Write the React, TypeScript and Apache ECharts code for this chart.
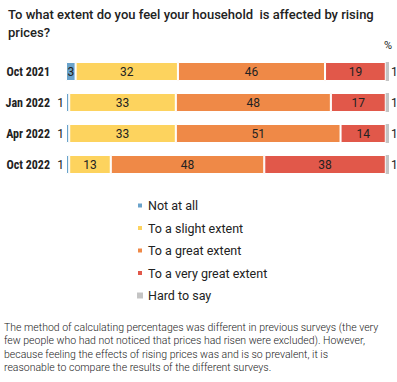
import React, { useEffect, useRef } from "react";
import * as echarts from "echarts";

const categories = ["Oct 2021", "Jan 2022", "Apr 2022", "Oct 2022"];
const notAtAll = [3, 1, 1, 1];
const slight = [32, 33, 33, 13];
const great = [46, 48, 51, 48];
const veryGreat = [19, 17, 14, 38];
const hardToSay = [1, 1, 1, 1];

const seriesNames = ["Not at all", "To a slight extent", "To a great extent", "To a very great extent", "Hard to say"];
const colors = ["#6aa3cb", "#fdd35e", "#ef8947", "#e1584a", "#c4c4c4"];

const footnote = [
  "The method of calculating percentages was different in previous surveys (the very",
  "few people who had not noticed that prices had risen were excluded). However,",
  "because feeling the effects of rising prices was and is so prevalent, it is",
  "reasonable to compare the results of the different surveys.",
];

export default function App() {
  const ref = useRef<HTMLDivElement>(null);
  useEffect(() => {
    document.body.style.margin = "0";
    if (!ref.current) return;
    const chart = echarts.init(ref.current, undefined, { renderer: "svg" });
    const all = [notAtAll, slight, great, veryGreat, hardToSay];
    const sums = categories.map((_, i) => all.reduce((s, arr) => s + arr[i], 0));
    const font = "Roboto, 'Noto Sans', sans-serif";
    const series = all.map((arr, si) => ({
      name: seriesNames[si],
      type: "bar",
      stack: "total",
      barWidth: 19,
      itemStyle: { color: colors[si], borderColor: "#ffffff", borderWidth: si === 4 ? 0 : 1 },
      label: {
        show: true,
        color: "#222",
        fontSize: 12,
        fontFamily: font,
        position: si === 4 ? "right" : "inside",
        distance: 2,
        formatter: (p: any) => String(arr[p.dataIndex]),
      },
      data: arr.map((v, i) => {
        const item: any = { value: (v / sums[i]) * 100 };
        if (si === 0 && v < 2) item.label = { position: "left", distance: 2 };
        return item;
      }),
    }));
    chart.setOption({
      animation: false,
      textStyle: { fontFamily: font },
      title: {
        text: "To what extent do you feel your household  is affected by rising\nprices?",
        left: 3,
        top: 0,
        textStyle: { fontSize: 13, fontWeight: 500, color: "#222", lineHeight: 18, fontFamily: font },
      },
      legend: {
        orient: "vertical",
        left: 131,
        top: 194,
        itemWidth: 6,
        itemHeight: 6,
        itemGap: 9.5,
        icon: "rect",
        textStyle: { fontSize: 12.5, color: "#222", fontFamily: font },
        data: seriesNames,
      },
      grid: { left: 66, right: 8, top: 56, height: 124 },
      xAxis: { type: "value", min: 0, max: 100, show: false },
      yAxis: {
        type: "category",
        data: categories,
        inverse: true,
        axisLine: { show: false },
        axisTick: { show: false },
        axisLabel: {
          margin: 16,
          fontSize: 12,
          fontWeight: "bold",
          color: "#222",
          fontFamily: "'Liberation Sans Narrow', 'Roboto Condensed', Roboto, sans-serif",
        },
      },
      graphic: [
        { type: "text", right: 5, top: 40, style: { text: "%", fontSize: 11, fill: "#222", fontFamily: font } },
        ...footnote.map((t, i) => ({
          type: "text",
          left: 4,
          top: 322 + i * 13.3,
          style: { text: t, fontSize: 10.5, fill: "#222", fontFamily: font, fontWeight: 300 },
        })),
      ],
      series,
    });
    return () => chart.dispose();
  }, []);
  return <div ref={ref} style={{ width: 397, height: 382 }} />;
}
